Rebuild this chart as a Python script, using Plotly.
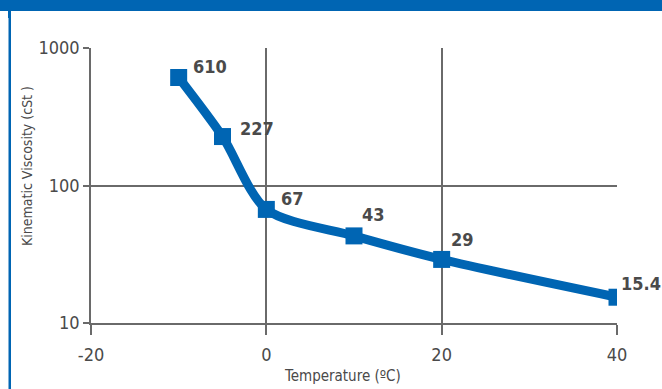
import math
import plotly.graph_objects as go

temps = [-10, -5, 0, 10, 20, 40]
visc = [610, 227, 67, 43, 29, 15.4]
labels = ["610", "227", "67", "43", "29", "15.4"]
x_ticks = [-20, 0, 20, 40]
y_ticks = [10, 100, 1000]
y_ticklabels = ["10", "100", "1000"]

label_dx = [12, 15, 13, 6, 7, 2]
label_dy = [11, 8, 11, 21, 20, 14]

BLUE = "#0065b3"
GRID = "#6a6a6a"
TXT = "#4a4a4a"
FONT = "DejaVu Sans Condensed, Liberation Sans Narrow, Roboto, sans-serif"

fig = go.Figure()
fig.add_trace(go.Scatter(
    x=temps, y=visc, mode="lines+markers",
    line=dict(color=BLUE, width=9, shape="spline", smoothing=0.8),
    marker=dict(symbol="square", size=17, color=BLUE),
    hoverinfo="skip", showlegend=False,
))

anns = []
for t, v, lab, dx, dy in zip(temps, visc, labels, label_dx, label_dy):
    anns.append(dict(x=t, y=math.log10(v), yref="y", xref="x", text=f"<b>{lab}</b>",
                     showarrow=False, xanchor="left", yanchor="middle",
                     xshift=dx, yshift=dy,
                     font=dict(family=FONT, size=18, color=TXT)))

L, R, T, B = 91, 45, 48, 66
W, H = 662, 389
pw, ph = W - L - R, H - T - B

def px(xp):
    return (xp - L) / pw

def py(yp):
    return (H - B - yp) / ph

anns.append(dict(xref="paper", yref="paper", x=px(27), y=py(166),
                 text="Kinematic Viscosity (cSt )", textangle=-90,
                 showarrow=False, xanchor="center", yanchor="middle",
                 font=dict(family=FONT, size=14, color=TXT)))
anns.append(dict(xref="paper", yref="paper", x=px(342), y=py(376),
                 text="Temperature (ºC)",
                 showarrow=False, xanchor="center", yanchor="middle",
                 font=dict(family=FONT, size=15, color=TXT)))

shapes = [
    dict(type="rect", xref="paper", yref="paper", x0=px(0), x1=px(W),
         y0=py(11), y1=py(0), fillcolor=BLUE, line=dict(width=0), layer="above"),
    dict(type="rect", xref="paper", yref="paper", x0=px(8.5), x1=px(11),
         y0=py(H), y1=py(11), fillcolor=BLUE, line=dict(width=0), layer="above"),
    dict(type="rect", xref="paper", yref="paper", x0=px(8), x1=px(11),
         y0=py(18), y1=py(11), fillcolor=BLUE, line=dict(width=0), layer="above"),
]

fig.update_layout(
    width=W, height=H,
    margin=dict(l=L, r=R, t=T, b=B),
    paper_bgcolor="white", plot_bgcolor="white",
    annotations=anns, shapes=shapes,
    xaxis=dict(range=[-20, 40], tickvals=x_ticks, ticktext=[str(v) for v in x_ticks],
               showgrid=True, gridcolor=GRID, gridwidth=1.5,
               showline=True, linecolor=GRID, linewidth=1.5,
               ticks="outside", ticklen=10, tickcolor=GRID, tickwidth=1.5,
               ticklabelstandoff=5, zeroline=False,
               tickfont=dict(family=FONT, size=18, color=TXT)),
    yaxis=dict(type="log", range=[1, 3], tickvals=y_ticks, ticktext=y_ticklabels,
               showgrid=True, gridcolor=GRID, gridwidth=1.5,
               showline=True, linecolor=GRID, linewidth=1.5,
               ticks="outside", ticklen=6, tickcolor=GRID, tickwidth=1.5,
               zeroline=False,
               tickfont=dict(family=FONT, size=18, color=TXT)),
)

fig.write_html("out.html")
